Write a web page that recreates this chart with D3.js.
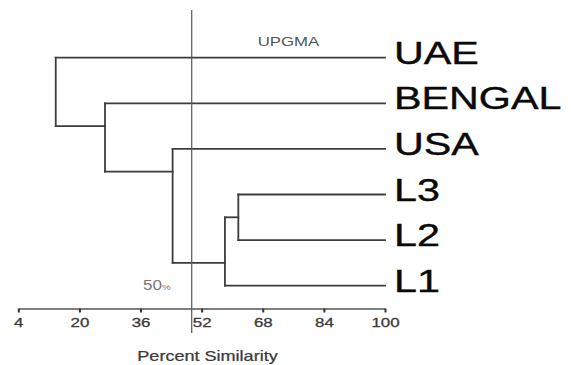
<!DOCTYPE html>
<html>
<head>
<meta charset="utf-8">
<script src="https://cdn.jsdelivr.net/npm/d3@7/dist/d3.min.js"></script>
<style>
  body { margin: 0; background: #fff; }
  svg { display: block; font-family: "Liberation Sans", Arial, sans-serif; }
</style>
</head>
<body>
<svg id="chart" width="571" height="365"></svg>
<script>
// leaves top to bottom
var leaves = ["UAE", "BENGAL", "USA", "L3", "L2", "L1"];

// merges in order (like hclust), "m0".. refer to earlier merges
var mergeLeft = ["L3", "m0", "USA", "BENGAL", "UAE"];
var mergeRight = ["L2", "L1", "m1", "m2", "m3"];
var mergeSimilarity = [61.6, 58.1, 44.4, 26.7, 13.8];

var tickValues = [4, 20, 36, 52, 68, 84, 100];
var cutLevel = 49.4;   // the 50% line
var cutLabel = "50";

var svg = d3.select("#chart");
var stretch = 1.29;   // the reference text is wide

var x = d3.scaleLinear().domain([4, 100]).range([18.3, 385]);
var y = d3.scaleLinear().domain([0, leaves.length - 1]).range([57.7, 285.7]);

// build nodes
var nodes = {};
leaves.forEach(function(name, i) {
  nodes[name] = { name: name, first: i, last: i, pos: i, sim: 100 };
});
var merges = [];
mergeLeft.forEach(function(l, i) {
  var a = nodes[l], b = nodes[mergeRight[i]];
  var m = { name: "m" + i, left: a, right: b,
            first: a.first, last: b.last,
            pos: (a.last + b.first) / 2,   // sits between the two groups
            sim: mergeSimilarity[i] };
  nodes[m.name] = m;
  merges.push(m);
});

var segs = [];
merges.forEach(function(m) {
  segs.push({ x1: m.sim, y1: m.left.pos, x2: m.sim, y2: m.right.pos });
  [m.left, m.right].forEach(function(c) {
    segs.push({ x1: m.sim, y1: c.pos, x2: c.sim, y2: c.pos });
  });
});

svg.append("g").attr("class", "links")
  .selectAll("line")
  .data(segs)
  .enter().append("line")
  .attr("x1", function(d) { return x(d.x1); })
  .attr("y1", function(d) { return y(d.y1); })
  .attr("x2", function(d) { return x(d.x2); })
  .attr("y2", function(d) { return y(d.y2); })
  .attr("stroke", "#3c3c3c")
  .attr("stroke-width", 1.8)
  .attr("stroke-linecap", "square");

// cut line
svg.append("line")
  .attr("x1", x(cutLevel)).attr("x2", x(cutLevel))
  .attr("y1", 10).attr("y2", 333)
  .attr("stroke", "#555")
  .attr("stroke-width", 1.2);

function stretchedText(g, tx, ty, str, size, color, anchor) {
  return g.append("text")
    .attr("transform", "translate(" + tx + "," + ty + ") scale(" + stretch + ",1)")
    .attr("text-anchor", anchor || "start")
    .style("font-size", size + "px")
    .attr("fill", color)
    .text(str);
}

// leaf labels
leaves.forEach(function(name) {
  stretchedText(svg, x(100) + 9, y(nodes[name].pos) + 6, name, 32, "#0a0a0a")
    .attr("stroke", "#0a0a0a").attr("stroke-width", 0.4);
});

// axis
var axis = svg.append("g")
  .attr("transform", "translate(0,308.5)")
  .call(d3.axisBottom(x).tickValues(tickValues).tickSize(4).tickPadding(5.5).tickSizeOuter(0));
axis.select(".domain").attr("stroke", "#555").attr("stroke-width", 1.5);
axis.selectAll(".tick line").attr("stroke", "#333").attr("stroke-width", 2);
axis.selectAll(".tick text")
  .attr("transform", "scale(1.3,1)")
  .attr("fill", "#3a3a3a")
  .attr("stroke", "#3a3a3a").attr("stroke-width", 0.3)
  .style("font-size", "13px")
  .style("font-family", "Liberation Sans, Arial, sans-serif");

// titles
stretchedText(svg, 288.5, 45.5, "UPGMA", 13, "#555", "middle");
stretchedText(svg, 207.5, 361, "Percent Similarity", 14, "#3a3a3a", "middle")
  .attr("stroke", "#3a3a3a").attr("stroke-width", 0.25);

var cut = svg.append("text")
  .attr("transform", "translate(143,290) scale(1.22,1)")
  .attr("fill", "#777")
  .style("font-size", "14px");
cut.append("tspan").text(cutLabel);
cut.append("tspan").style("font-size", "8px").text("%");
</script>
</body>
</html>
